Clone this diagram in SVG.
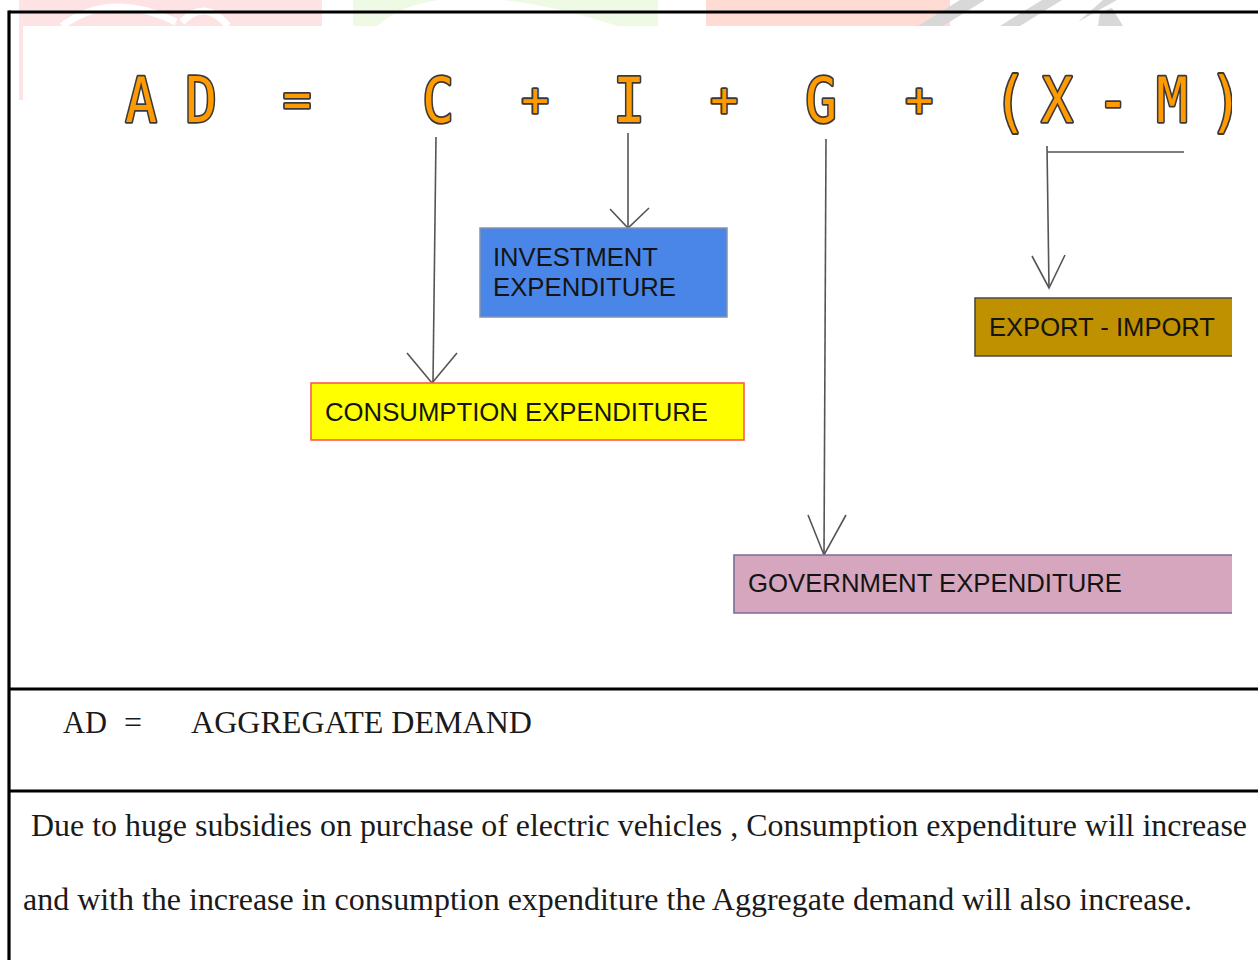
<svg xmlns="http://www.w3.org/2000/svg" width="1258" height="960" viewBox="0 0 1258 960">
<style>
.f{font-family:"DejaVu Sans Mono","Liberation Mono",monospace;font-weight:normal;fill:#ff9a00;stroke:#3a3a3a;stroke-width:3.6;paint-order:stroke;stroke-linejoin:round;text-anchor:middle}
.conn{fill:none;stroke:#555;stroke-width:1.6}
.lbl{font-family:"Liberation Sans",Arial,sans-serif;font-size:25.5px;fill:#141414}
.ser{font-family:"Liberation Serif","Times New Roman",serif;fill:#1a1a1a}
.rule{stroke:#000;stroke-width:3.2}
</style>
<rect width="1258" height="960" fill="#fff"/>
<g id="watermark">
<rect x="19" y="0" width="303" height="26" fill="#fde3e3"/>
<rect x="19" y="26" width="4" height="74" fill="#fde3e3"/>
<path d="M62,26 Q110,-10 176,22" fill="none" stroke="#fff" stroke-width="7"/>
<path d="M182,22 Q205,-2 228,26" fill="none" stroke="#fff" stroke-width="7"/>
<rect x="353" y="0" width="305" height="26" fill="#eefae4"/>
<path d="M377,26 Q440,-30 618,26 Z" fill="#fff"/>
<rect x="706" y="0" width="244" height="26" fill="#fedcd3"/>
<path d="M918,26 L943,26 L985,0 L960,0 Z" fill="#d8d8d8"/>
<path d="M1000,26 L1020,26 L1062,0 L1042,0 Z" fill="#d8d8d8"/>
<path d="M1078,22 L1092,14 L1117,0 L1103,0 Z M1098,26 L1123,26 L1112,8 L1100,12 Z" fill="#d8d8d8"/>
</g>
<g id="frame">
<line class="rule" x1="9" y1="12" x2="1258" y2="12"/>
<line class="rule" x1="9" y1="10.5" x2="9" y2="960"/>
<line class="rule" x1="9" y1="689" x2="1258" y2="689"/>
<line class="rule" x1="9" y1="791" x2="1258" y2="791"/>
</g>
<g id="formula">
<text class="f" font-size="62" transform="translate(141,122) scale(0.85,1)">A</text>
<text class="f" font-size="62" transform="translate(201,122) scale(0.85,1)">D</text>
<text class="f" font-size="50" transform="translate(297,117) scale(0.95,1)">=</text>
<text class="f" font-size="62" transform="translate(438,122) scale(0.85,1)">C</text>
<text class="f" font-size="46" transform="translate(535,116)">+</text>
<text class="f" font-size="62" transform="translate(629,122) scale(0.85,1)">I</text>
<text class="f" font-size="46" transform="translate(724,116)">+</text>
<text class="f" font-size="62" transform="translate(821,122) scale(0.85,1)">G</text>
<text class="f" font-size="46" transform="translate(919,116)">+</text>
<text class="f" font-size="62" transform="translate(1010,124) scale(0.9,1.05)">(</text>
<text class="f" font-size="62" transform="translate(1057,122) scale(0.85,1)">X</text>
<text class="f" font-size="62" transform="translate(1113,122) scale(0.85,1)">-</text>
<text class="f" font-size="62" transform="translate(1172,122) scale(0.85,1)">M</text>
<text class="f" font-size="62" transform="translate(1226,124) scale(0.9,1.05)">)</text>
<rect x="1232" y="60" width="26" height="90" fill="#fff"/>
</g>
<g id="connectors">
<path class="conn" d="M436,137 L433,383"/>
<path class="conn" d="M407,353 L432,383 L457,353"/>
<path class="conn" d="M628,133 L628,228"/>
<path class="conn" d="M610,209 L628,228 L649,208"/>
<path class="conn" d="M826,139 L824,555"/>
<path class="conn" d="M808,515 L824,555 L846,515"/>
<path class="conn" d="M1047,152 L1184,152"/>
<path class="conn" d="M1047,146 L1049,288"/>
<path class="conn" d="M1032,256 L1049,288 L1065,255"/>
</g>
<g id="investment">
<rect x="480" y="228" width="247" height="89" fill="#4a86e8" stroke="#8093b3" stroke-width="1.5"/>
<text class="lbl" x="493" y="266" textLength="165" lengthAdjust="spacingAndGlyphs">INVESTMENT</text>
<text class="lbl" x="493" y="296" textLength="183" lengthAdjust="spacingAndGlyphs">EXPENDITURE</text>
</g>
<g id="consumption">
<rect x="311" y="383" width="433" height="57" fill="#ffff00" stroke="#ff5a4a" stroke-width="1.6"/>
<text class="lbl" x="325" y="421" textLength="383" lengthAdjust="spacingAndGlyphs">CONSUMPTION EXPENDITURE</text>
</g>
<g id="export-import">
<path d="M1232,298 L975,298 L975,356 L1232,356 Z" fill="#bf9000" stroke="none"/>
<path d="M1232,298 L975,298 L975,356 L1232,356" fill="none" stroke="#4f4a3a" stroke-width="1.6"/>
<text class="lbl" x="989" y="336" textLength="226" lengthAdjust="spacingAndGlyphs">EXPORT - IMPORT</text>
</g>
<g id="government">
<path d="M1232,555 L734,555 L734,613 L1232,613 Z" fill="#d5a6bd" stroke="none"/>
<path d="M1232,555 L734,555 L734,613 L1232,613" fill="none" stroke="#7a6c98" stroke-width="1.6"/>
<text class="lbl" x="748" y="592" textLength="374" lengthAdjust="spacingAndGlyphs">GOVERNMENT EXPENDITURE</text>
</g>
<g id="definition">
<text class="ser" font-size="31" x="63" y="733" textLength="44" lengthAdjust="spacingAndGlyphs">AD</text>
<text class="ser" font-size="31" x="124" y="733" textLength="18" lengthAdjust="spacingAndGlyphs">=</text>
<text class="ser" font-size="31" x="191" y="733" textLength="341" lengthAdjust="spacingAndGlyphs">AGGREGATE DEMAND</text>
</g>
<g id="explanation">
<text class="ser" font-size="32" x="31" y="836" textLength="1216" lengthAdjust="spacingAndGlyphs">Due to huge subsidies on purchase of electric vehicles , Consumption expenditure will increase</text>
<text class="ser" font-size="32" x="23" y="910" textLength="1169" lengthAdjust="spacingAndGlyphs">and with the increase in consumption expenditure the Aggregate demand will also increase.</text>
</g>
</svg>
